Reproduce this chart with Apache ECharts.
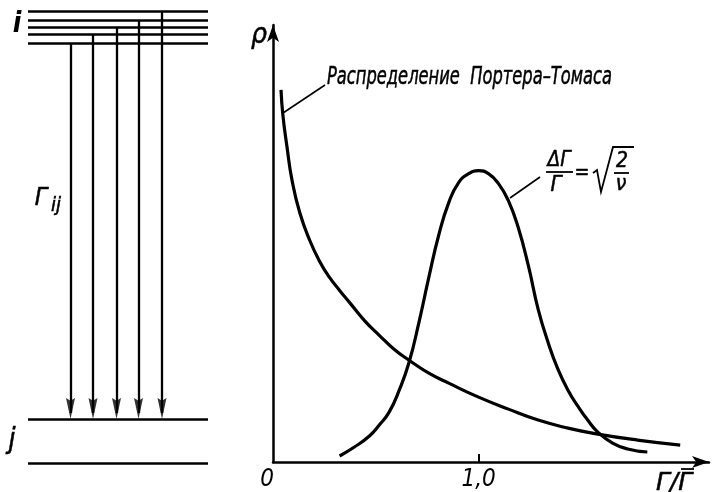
<!DOCTYPE html>
<html><head><meta charset="utf-8">
<script src="https://cdn.jsdelivr.net/npm/echarts@6/dist/echarts.min.js"></script>
<style>html,body{margin:0;padding:0;background:#fff}#c{width:712px;height:492px}</style>
</head><body><div id="c"></div>
<script>
// ---- Right panel: width distributions, x = Γ/Γ̄, y = ρ (relative units)
const porterThomasX = [0.039,0.048,0.068,0.092,0.130,0.179,0.227,0.275,0.324,0.372,0.444,0.517,0.589,0.662,0.758,0.855,1.000,1.145,1.290,1.435,1.580,1.773,1.981];
const porterThomasY = [3.73,3.48,3.16,2.83,2.50,2.22,2.01,1.85,1.72,1.60,1.42,1.27,1.13,1.02,0.89,0.79,0.65,0.53,0.42,0.34,0.28,0.22,0.17];
const gaussX = [0.324,0.396,0.469,0.517,0.565,0.614,0.662,0.710,0.758,0.807,0.855,0.903,0.952,1.000,1.048,1.097,1.145,1.193,1.242,1.290,1.338,1.386,1.435,1.483,1.531,1.580,1.652,1.725,1.821];
const gaussY = [0.06,0.15,0.26,0.37,0.50,0.72,1.00,1.40,1.85,2.28,2.60,2.80,2.89,2.92,2.89,2.79,2.62,2.35,1.97,1.53,1.20,0.93,0.72,0.56,0.42,0.30,0.19,0.13,0.10];
const xTickLabels = {0:'0', 1:'1,0'};

// ---- Left panel: level scheme (schematic units, y grows downward)
const upperLevels = [11, 20, 27.7, 34.3, 43.3];   // levels i
const lowerLevels = [419, 463];                    // level j and below
const levelSpan = [28, 208];
const transitionX = [70.5, 93, 116.5, 138.5, 162];
const transitionFrom = [4, 3, 2, 1, 0];            // index into upperLevels

const FONT = '"Liberation Sans Narrow","DejaVu Sans Condensed","DejaVu Sans",sans-serif';
function measure(str, font){const c=document.createElement('canvas').getContext('2d');c.font=font;return c.measureText(str).width;}

const chart = echarts.init(document.getElementById('c'), null, {renderer:'canvas'});

function T(text, x, y, size, opts){
  opts = opts||{};
  const font = 'italic '+(opts.weight||'normal')+' '+size+'px '+FONT;
  const el = {type:'text', x:x, y:y, z:100, silent:true,
    style:{text:text, font:font, fill:'#000', align:opts.align||'center', textAlign:opts.align||'center',
      verticalAlign:'middle', textVerticalAlign:'middle', stroke:'#000', lineWidth:opts.stroke==null?0.5:opts.stroke}};
  if (opts.width){ const w = measure(text, font); el.scaleX = opts.width / w; }
  return el;
}
function L(x1,y1,x2,y2,w){return {type:'line', z:100, silent:true, shape:{x1,y1,x2,y2}, style:{stroke:'#000', lineWidth:w||1.5}};}

const levelLines = upperLevels.concat(lowerLevels).map(y => ({coords:[[levelSpan[0], y],[levelSpan[1], y]]}));
const transLines = transitionX.map((x,i) => ({coords:[[x, upperLevels[transitionFrom[i]]],[x, lowerLevels[0]-6]]}));
const arrowHeads = transitionX.map(x => [x, lowerLevels[0]]);

const option = {
  animation:false,
  grid:[
    {left:273, right:0, top:25, bottom:29},
    {left:0, top:0, width:260, height:492}
  ],
  xAxis:[
    {gridIndex:0, type:'value', min:0, max:2.121, interval:1,
      axisLine:{show:true, symbol:['none','arrow'], symbolSize:[9,17], lineStyle:{color:'#000', width:2.5}},
      axisTick:{show:false}, splitLine:{show:false},
      axisLabel:{margin:6, color:'#000', fontStyle:'italic', fontSize:24, fontFamily:FONT,
        formatter:v => v===0 ? '{z|0}' : (v===1 ? '{o|1,0}' : ''),
        rich:{z:{fontStyle:'italic', fontSize:24, fontFamily:FONT, color:'#000', padding:[0,12,0,0]},
              o:{fontStyle:'italic', fontSize:24, fontFamily:FONT, color:'#000'}}}},
    {gridIndex:1, type:'value', min:0, max:260, show:false}
  ],
  yAxis:[
    {gridIndex:0, type:'value', min:0, max:4.38,
      axisLine:{show:true, symbol:['none','arrow'], symbolSize:[9,17], lineStyle:{color:'#000', width:2.5}},
      axisTick:{show:false}, axisLabel:{show:false}, splitLine:{show:false}},
    {gridIndex:1, type:'value', min:0, max:492, inverse:true, show:false}
  ],
  series:[
    {type:'line', xAxisIndex:0, yAxisIndex:0, data:porterThomasX.map((x,i)=>[x,porterThomasY[i]]),
      smooth:0.5, symbol:'none', lineStyle:{color:'#000', width:3.2}, silent:true,
      markLine:{silent:true, symbol:'none', label:{show:false}, lineStyle:{color:'#000', width:2, type:'solid'},
        data:[[{coord:[1,0]},{coord:[1,0.08]}]]}},
    {type:'line', xAxisIndex:0, yAxisIndex:0, data:gaussX.map((x,i)=>[x,gaussY[i]]),
      smooth:0.5, symbol:'none', lineStyle:{color:'#000', width:3.2}, silent:true},
    {type:'lines', coordinateSystem:'cartesian2d', xAxisIndex:1, yAxisIndex:1, data:levelLines,
      lineStyle:{color:'#000', width:2.6, opacity:1}, silent:true},
    {type:'lines', coordinateSystem:'cartesian2d', xAxisIndex:1, yAxisIndex:1, data:transLines,
      lineStyle:{color:'#000', width:2.3, opacity:1}, silent:true},
    {type:'scatter', xAxisIndex:1, yAxisIndex:1, data:arrowHeads,
      symbol:'path://M0,0 L5,3 L10,0 L5,24 Z', symbolSize:[9,21], symbolOffset:[0,'-50%'],
      itemStyle:{color:'#000'}, silent:true}
  ],
  graphic:[
    T('i', 17, 25, 28, {weight:'bold', stroke:0}),
    T('j', 12, 441, 28),
    T('Γ', 41, 198, 25),
    T('ij', 56, 206, 20),
    T('ρ', 259, 36, 28),
    T('Распределение  Портера–Томаса', 327, 77, 25, {align:'left', width:285}),
    L(283,113,325,85,1.6),
    // formula ΔΓ/Γ = sqrt(2/ν)
    T('ΔΓ', 559, 161, 21, {width:23}),
    L(546,172,573,172,1.8),
    T('Γ', 556, 185, 22),
    T('=', 582, 173, 22, {width:15}),
    {type:'polyline', z:100, silent:true, shape:{points:[[593,173],[597,170],[601,192],[613,147],[634,147]]}, style:{stroke:'#000', lineWidth:1.8, fill:null}},
    T('2', 622, 162, 21),
    L(614,173,629,173,1.8),
    T('ν', 621, 185, 21),
    L(510,198,540,177,1.6),
    // x axis name Γ/Γ̄
    T('Γ/Γ', 674, 483, 25, {width:36}),
    L(681,469,694,469,1.8)
  ]
};
chart.setOption(option);
</script></body></html>
